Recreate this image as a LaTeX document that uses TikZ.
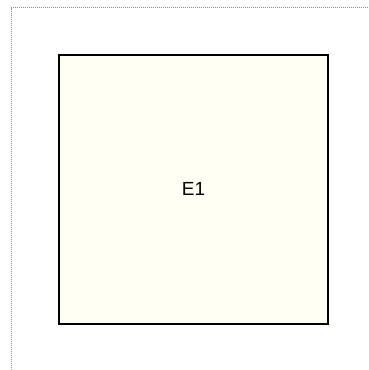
\documentclass[tikz,border=0pt]{standalone}
\usepackage{fontspec}
\setmainfont{Liberation Sans}
\definecolor{boxfill}{HTML}{FFFFF4}
\definecolor{framegray}{HTML}{909090}
\begin{document}
\begin{tikzpicture}[x=1pt,y=-1pt,
  entity/.style={draw=black,line width=2pt,fill=boxfill,minimum width=269pt,minimum height=269pt,inner sep=0pt,font=\fontsize{19}{23}\selectfont}]
\useasboundingbox (0,0) rectangle (369,370);
\draw[framegray,line width=1pt,dash pattern=on 1pt off 1pt] (11,370) -- (11,7.5) -- (369,7.5);
\node[entity] (e1) at (193.5,189) {E1};
\end{tikzpicture}
\end{document}
